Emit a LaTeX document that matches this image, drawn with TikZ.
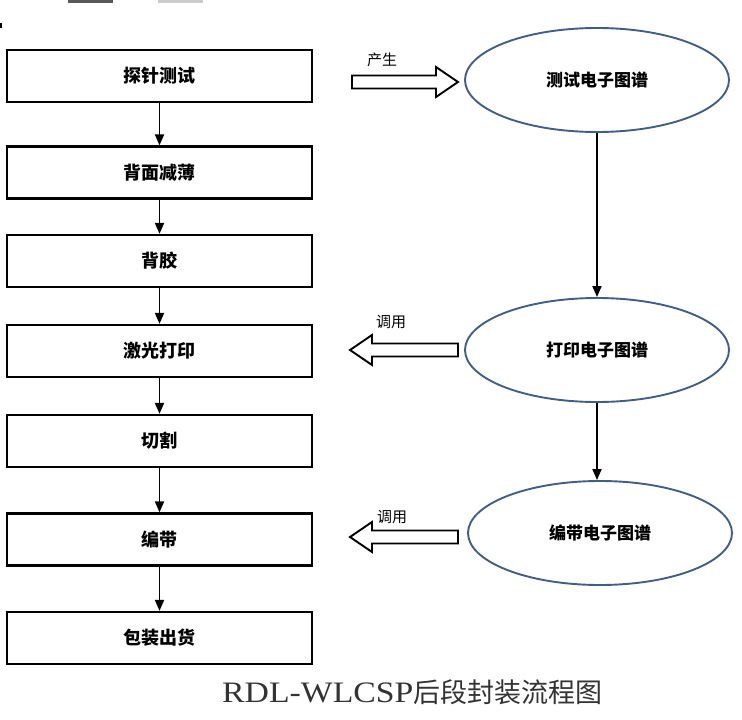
\documentclass[tikz,border=0pt]{standalone}
\usepackage{fontspec}
\usepackage{graphicx}
\usetikzlibrary{arrows.meta,shapes.geometric}
\newfontfamily\cjk{Noto Sans CJK SC}
\newfontfamily\capserif{Liberation Serif}
\definecolor{ellblue}{HTML}{3F5E8A}
\tikzset{
  stepbox/.style={draw=black, line width=2.2pt, minimum width=305pt, minimum height=52pt, inner sep=0pt, font=\cjk\bfseries\fontsize{18}{20}\selectfont},
  mapell/.style={ellipse, draw=ellblue, line width=1.9pt, minimum width=264pt, minimum height=104pt, inner sep=0pt, font=\cjk\bfseries\fontsize{17}{19}\selectfont},
  flow/.style={line width=1.9pt, -{Triangle[width=9pt,length=11pt]}},
  hollow/.style={draw=black, line width=1.9pt, fill=white, line join=miter},
  small/.style={font=\cjk\fontsize{15}{17}\selectfont, inner sep=0pt}
}
\newcommand{\dn}[1]{\raisebox{-5pt}{#1}}
\begin{document}
\begin{tikzpicture}[x=1pt,y=-1pt]
\useasboundingbox (0,0) rectangle (742,720);
% top remnants
\fill[black!65] (68,0) rectangle (113,3);
\fill[black!20] (158,0) rectangle (203,3);
\fill[black] (0,23) rectangle (2,28);
% left column
\node[stepbox] (b1) at (159.5,76) {\dn{探针测试}};
\node[stepbox] (b2) at (159.5,172.5) {\dn{背面减薄}};
\node[stepbox] (b3) at (159.5,261) {\dn{背胶}};
\node[stepbox] (b4) at (159.5,351) {\dn{激光打印}};
\node[stepbox] (b5) at (159.5,441) {\dn{切割}};
\node[stepbox] (b6) at (159.5,539.5) {\dn{编带}};
\node[stepbox] (b7) at (159.5,638) {\dn{包装出货}};
\draw[flow] (b1) -- (b2);
\draw[flow] (b2) -- (b3);
\draw[flow] (b3) -- (b4);
\draw[flow] (b4) -- (b5);
\draw[flow] (b5) -- (b6);
\draw[flow] (b6) -- (b7);
% right column
\node[mapell] (e1) at (597,80) {测试电子图谱};
\node[mapell] (e2) at (597,350) {打印电子图谱};
\node[mapell] (e3) at (600,533) {编带电子图谱};
\draw[flow] (e1.south) -- (e2.north);
\draw[flow] (e2.south) -- (e2.south |- e3.north);
% hollow arrows
\draw[hollow] (352,75.5) -- (436,75.5) -- (436,67) -- (458,82) -- (436,97) -- (436,88.5) -- (352,88.5) -- cycle;
\node[small] (l1) at (382,60) {产生};
\draw[hollow] (458,343.5) -- (372,343.5) -- (372,335) -- (350,350) -- (372,365) -- (372,356.5) -- (458,356.5) -- cycle;
\node[small] (l2) at (391,322) {调用};
\draw[hollow] (458,530.5) -- (372,530.5) -- (372,522) -- (350,537) -- (372,552) -- (372,543.5) -- (458,543.5) -- cycle;
\node[small] (l3) at (392,517) {调用};
% caption
\node[anchor=west, inner sep=0pt, text=black!80] (cap) at (222,692) {\scalebox{1.25}[1.1]{\capserif\fontsize{27}{30}\selectfont RDL-WLCSP}\cjk\fontsize{27}{30}\selectfont 后段封装流程图};
\end{tikzpicture}
\end{document}
